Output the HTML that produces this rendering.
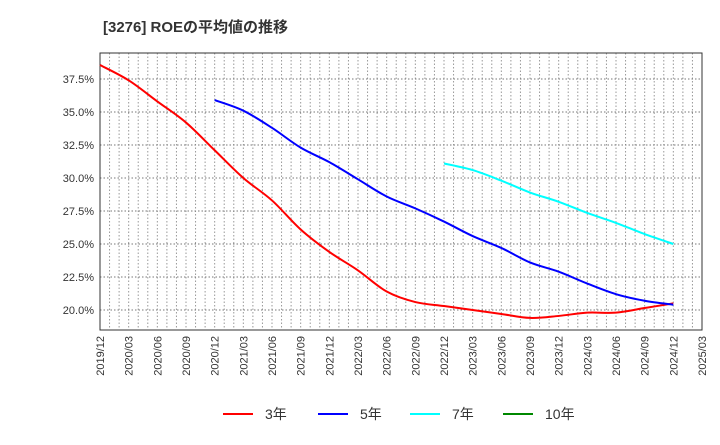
<!DOCTYPE html>
<html><head><meta charset="utf-8"><style>
body{margin:0;background:#fff;font-family:"Liberation Sans","Noto Sans CJK JP",sans-serif;}
</style></head><body>
<svg id="c" width="720" height="440" xmlns="http://www.w3.org/2000/svg">
<text x="103" y="32" font-size="15" font-weight="bold" fill="#333" font-family="Liberation Sans, Noto Sans CJK JP, sans-serif">[3276]  ROEの平均値の推移</text>
<g id="grid"></g><g id="axes"></g><g id="series"></g><g id="legend"></g>
</svg>
<script>
const xLabels=["2019/12","2020/03","2020/06","2020/09","2020/12","2021/03","2021/06","2021/09","2021/12","2022/03","2022/06","2022/09","2022/12","2023/03","2023/06","2023/09","2023/12","2024/03","2024/06","2024/09","2024/12","2025/03"];
const yTicks=[20.0,22.5,25.0,27.5,30.0,32.5,35.0,37.5];
const s3=[38.56,37.4,35.8,34.2,32.1,30.0,28.3,26.1,24.4,23.0,21.4,20.6,20.3,20.0,19.7,19.4,19.55,19.8,19.8,20.15,20.5];
const s5=[35.9,35.1,33.8,32.3,31.2,29.9,28.6,27.7,26.7,25.6,24.7,23.6,22.9,22.0,21.2,20.7,20.4];
const s7=[31.1,30.6,29.8,28.9,28.2,27.35,26.6,25.75,25.0];
const s10=[];
const L=100,R=702,T=53,B=330;
const X=i=>L+(R-L)*i/(xLabels.length-1);
const Y=v=>310-(v-20)*13.2;
const NS="http://www.w3.org/2000/svg";
function mk(p,tag,a){const e=document.createElementNS(NS,tag);for(const k in a)e.setAttribute(k,a[k]);p.appendChild(e);return e;}
const g=document.getElementById('grid'),ax=document.getElementById('axes'),se=document.getElementById('series'),lg=document.getElementById('legend');
for(let m=1;m<(xLabels.length-1)*3;m++){const x=L+(R-L)*m/((xLabels.length-1)*3);
const l=mk(g,'line',{x1:x,x2:x,y1:T,y2:B,stroke:'#999','stroke-dasharray':'1.5,2','stroke-width':1});

}
yTicks.forEach(v=>{const y=Y(v);
const l=mk(g,'line',{x1:L,x2:R,y1:y,y2:y,stroke:'#777','stroke-dasharray':'1.5,2','stroke-width':1});


const t=mk(ax,'text',{x:L-6,y:y+4,'text-anchor':'end','font-size':11,fill:'#333'});t.textContent=v.toFixed(1)+'%';

});
xLabels.forEach((s,i)=>{const x=X(i);
const t=mk(ax,'text',{x:0,y:0,'text-anchor':'end','font-size':11,fill:'#333',transform:`translate(${x+4},${B+6}) rotate(-90)`});t.textContent=s;

});
const fr=mk(ax,'rect',{x:L,y:T,width:R-L,height:B-T,fill:'none',stroke:'#333','stroke-width':1});


function line(arr,start,color,name){if(!arr.length)return;
const P=arr.map((v,i)=>[X(start+i),Y(v)]);
let d='M'+P[0][0]+','+P[0][1];
for(let i=0;i<P.length-1;i++){const p0=P[Math.max(0,i-1)],p1=P[i],p2=P[i+1],p3=P[Math.min(P.length-1,i+2)];
const c1=[p1[0]+(p2[0]-p0[0])/6,p1[1]+(p2[1]-p0[1])/6],c2=[p2[0]-(p3[0]-p1[0])/6,p2[1]-(p3[1]-p1[1])/6];
d+=` C${c1[0]},${c1[1]} ${c2[0]},${c2[1]} ${p2[0]},${p2[1]}`;}
const p=mk(se,'path',{d:d,fill:'none',stroke:color,'stroke-width':2,'stroke-linejoin':'round'});

}
line(s3,0,'#f00','series-3yr');line(s5,4,'#00f','series-5yr');line(s7,12,'#0ff','series-7yr');line(s10,16,'#080','series-10yr');
[['3年','#f00',223],['5年','#00f',318],['7年','#0ff',410],['10年','#080',503]].forEach(([n,c,x])=>{
const gg=mk(lg,'g',{});


mk(gg,'line',{x1:x,x2:x+30,y1:414,y2:414,stroke:c,'stroke-width':2});
const t=mk(gg,'text',{x:x+42,y:419,'font-size':14,fill:'#333'});t.textContent=n;});
</script>
</body></html>
